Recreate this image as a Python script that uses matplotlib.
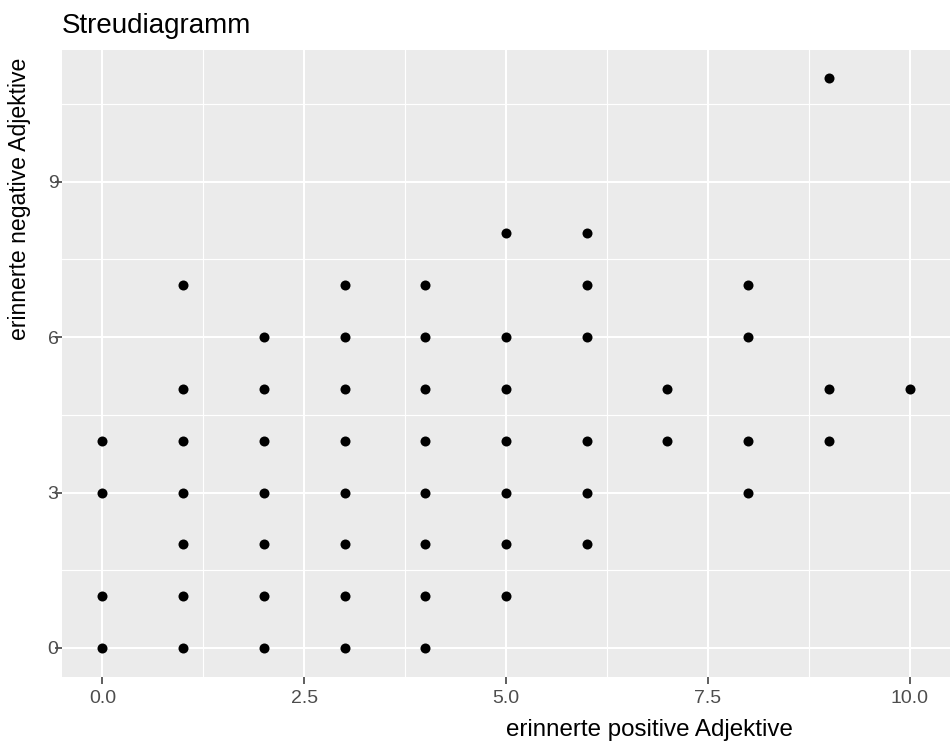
import matplotlib.pyplot as plt
import numpy as np

# recalled adjectives: positive (x) vs negative (y)
pos_adj = [0, 0, 0, 0,
           1, 1, 1, 1, 1, 1, 1,
           2, 2, 2, 2, 2, 2, 2,
           3, 3, 3, 3, 3, 3, 3, 3,
           4, 4, 4, 4, 4, 4, 4, 4,
           5, 5, 5, 5, 5, 5, 5,
           6, 6, 6, 6, 6, 6,
           7, 7,
           8, 8, 8, 8,
           9, 9, 9,
           10]
neg_adj = [0, 1, 3, 4,
           0, 1, 2, 3, 4, 5, 7,
           0, 1, 2, 3, 4, 5, 6,
           0, 1, 2, 3, 4, 5, 6, 7,
           0, 1, 2, 3, 4, 5, 6, 7,
           1, 2, 3, 4, 5, 6, 8,
           2, 3, 4, 6, 7, 8,
           4, 5,
           3, 4, 6, 7,
           4, 5, 11,
           5]

x_ticks = [0, 2.5, 5, 7.5, 10]
x_tick_labels = ["0.0", "2.5", "5.0", "7.5", "10.0"]
y_ticks = [0, 3, 6, 9]
y_tick_labels = ["0", "3", "6", "9"]

plt.rcParams['font.family'] = ['Liberation Sans', 'DejaVu Sans']

W, H = 952, 742
fig = plt.figure(figsize=(W / 100, H / 100), dpi=100)
ax = fig.add_axes([62 / W, 1 - 676.5 / H, (950 - 62) / W, (676.5 - 49.5) / H])

ax.set_facecolor('#EBEBEB')
for s in ax.spines.values():
  s.set_visible(False)

x = np.array(pos_adj)
y = np.array(neg_adj)
ax.scatter(x, y, s=52, color='black', zorder=3, linewidths=0)

xmin, xmax = x.min(), x.max()
ymin, ymax = y.min(), y.max()
ax.set_xlim(xmin - 0.05 * (xmax - xmin), xmax + 0.05 * (xmax - xmin))
ax.set_ylim(ymin - 0.05 * (ymax - ymin), ymax + 0.05 * (ymax - ymin))

ax.set_xticks(x_ticks)
ax.set_xticklabels(x_tick_labels)
ax.set_yticks(y_ticks)
ax.set_yticklabels(y_tick_labels)
ax.set_xticks([1.25, 3.75, 6.25, 8.75], minor=True)
ax.set_yticks([1.5, 4.5, 7.5, 10.5], minor=True)

ax.grid(which='major', color='white', linewidth=1.5)
ax.grid(which='minor', color='white', linewidth=0.8)
ax.set_axisbelow(True)

ax.tick_params(axis='both', which='major', length=5, width=1.1, color='#333333',
               labelcolor='#4D4D4D', labelsize=14)
ax.tick_params(axis='x', which='major', pad=5)
ax.tick_params(axis='y', which='major', pad=-2.5)
ax.tick_params(which='minor', length=0)

# titles
fig.text(62 / W, 1 - 33 / H, "Streudiagramm", fontsize=20, ha='left', va='baseline')
fig.text(506 / W, 1 - 736 / H, "erinnerte positive Adjektive", fontsize=17.4,
         ha='left', va='baseline')
fig.text(20 / W, 1 - 199 / H, "erinnerte negative Adjektive", fontsize=16.6,
         rotation=90, ha='center', va='center')

fig.savefig("out.png", dpi=100)
